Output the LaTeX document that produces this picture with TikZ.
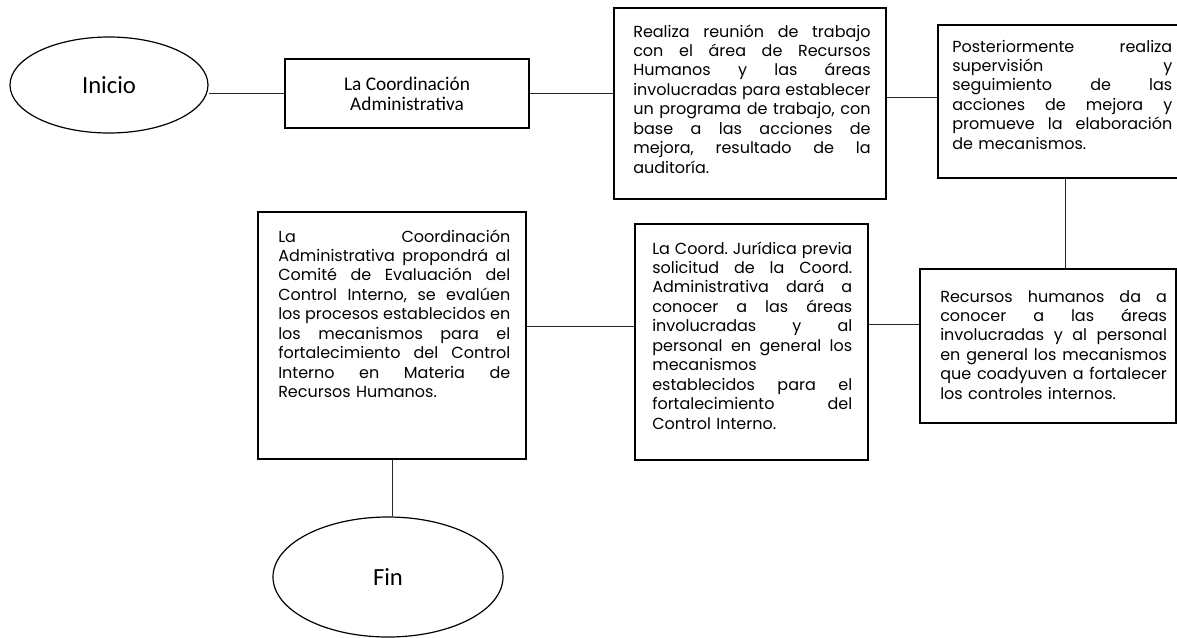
\documentclass[tikz,border=0pt]{standalone}
\usepackage{fontspec}
\setmainfont{Poppins}
\newfontfamily\calfont{Carlito}
\usetikzlibrary{shapes.geometric}
\frenchspacing
\newcommand\jl[1]{\hbox to \hsize{\spaceskip=0.3em plus 10em minus 0.05em\xspaceskip=0.3em plus 10em minus 0.05em #1}}
\tikzset{
  terminal/.style={ellipse, draw, line width=0.9pt, inner sep=0pt, font=\calfont\fontsize{18.5}{22}\selectfont},
  box/.style={rectangle, draw, line width=0.9pt, inner sep=0pt},
  boxtext/.style={anchor=base west, inner sep=0pt, align=left, font=\frenchspacing\fontsize{12}{14.6}\selectfont},
  conn/.style={draw=black!85, line width=0.6pt}
}
\begin{document}
\begin{tikzpicture}[x=0.75pt,y=-0.75pt]
\useasboundingbox (0,0) rectangle (1177,637);
% terminals
\node[terminal, minimum width=148.5pt, minimum height=72pt] (inicio) at (109,85) {Inicio};
\node[terminal, minimum width=172.5pt, minimum height=90pt] (fin) at (388,577) {Fin};
% boxes
\node[box, minimum width=183pt, minimum height=51.75pt, align=center,
      font=\calfont\fontsize{14.5}{15}\selectfont] (b1) at (407,93.5) {La Coordinación\\Administrativa};
\node[box, minimum width=204pt, minimum height=143.25pt] (b2) at (750,103.5) {};
\node[box, minimum width=183pt, minimum height=114.75pt] (b3) at (1060,101.5) {};
\node[box, minimum width=192pt, minimum height=115.5pt] (br) at (1048,346) {};
\node[box, minimum width=174.75pt, minimum height=177pt] (bm) at (751.5,342) {};
\node[box, minimum width=201pt, minimum height=185.25pt] (bl) at (392,335.5) {};
% texts
\node[boxtext, text width=178pt] (t2) at (633,37) {%
\jl{Realiza reunión de trabajo}
\jl{con el área de Recursos}
\jl{Humanos y las áreas}
\jl{involucradas para establecer}
\jl{un programa de trabajo, con}
\jl{base a las acciones de}
\jl{mejora, resultado de la}
auditoría.};
\node[boxtext, text width=165pt] (t3) at (952,52) {%
\jl{Posteriormente realiza}
\jl{supervisión y}
\jl{seguimiento de las}
\jl{acciones de mejora y}
\jl{promueve la elaboración}
de mecanismos.};
\node[boxtext, text width=170pt] (tr) at (940,302) {%
\jl{Recursos humanos da a}
\jl{conocer a las áreas}
\jl{involucradas y al personal}
\jl{en general los mecanismos}
\jl{que coadyuven a fortalecer}
los controles internos.};
\node[boxtext, text width=150pt] (tm) at (652,254) {%
\jl{La Coord. Jurídica previa}
\jl{solicitud de la Coord.}
\jl{Administrativa dará a}
\jl{conocer a las áreas}
\jl{involucradas y al}
\jl{personal en general los}
mecanismos\\
\jl{establecidos para el}
\jl{fortalecimiento del}
Control Interno.};
\node[boxtext, text width=174pt] (tl) at (278,242) {%
\jl{La Coordinación}
\jl{Administrativa propondrá al}
\jl{Comité de Evaluación del}
\jl{Control Interno, se evalúen}
\jl{los procesos establecidos en}
\jl{los mecanismos para el}
\jl{fortalecimiento del Control}
\jl{Interno en Materia de}
Recursos Humanos.};
% connectors
\draw[conn] (b1.west) -- (b1.west -| inicio.east);
\draw[conn] (b1.east) -- (b1.east -| b2.west);
\draw[conn] ([yshift=3.4pt]b3.west) -- ([yshift=3.4pt]b3.west -| b2.east);
\draw[conn] ([xshift=3.75pt]b3.south) -- ([xshift=3.75pt]b3.south |- br.north);
\draw[conn] ([yshift=16.5pt]br.west) -- ([yshift=16.5pt]br.west -| bm.east);
\draw[conn] ([yshift=12pt]bm.west) -- ([yshift=12pt]bm.west -| bl.east);
\draw[conn] (bl.south) -- (bl.south |- fin.north);
\end{tikzpicture}
\end{document}
